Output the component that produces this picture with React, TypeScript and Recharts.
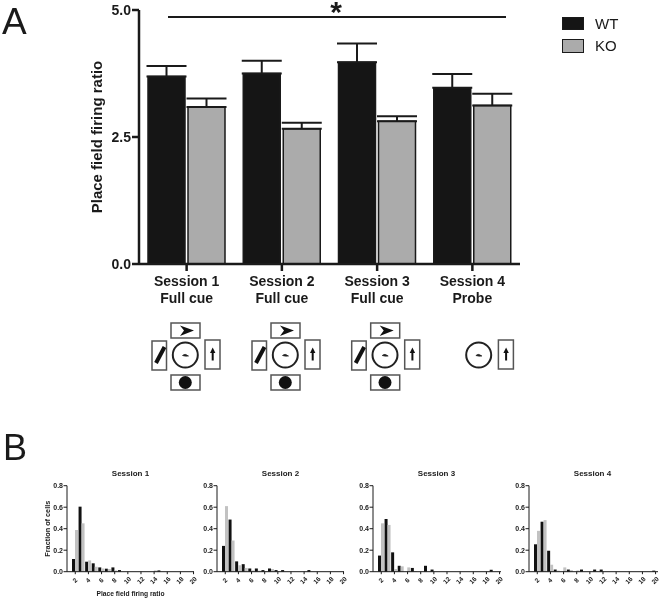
import React from 'react';
import { BarChart, Bar, XAxis, YAxis, ErrorBar, Legend } from 'recharts';

const FONT = '"Liberation Sans", Arial, sans-serif';
const INK = '#1a1a1a';
const GRAYSCALE_TEXT: React.CSSProperties = { willChange: 'transform' };

// Panel A
const sessions = ['Session 1', 'Session 2', 'Session 3', 'Session 4'];
const cues = ['Full cue', 'Full cue', 'Full cue', 'Probe'];
const seriesNames = ['WT', 'KO'];
const wtMeans = [3.69, 3.75, 3.97, 3.47];
const koMeans = [3.09, 2.66, 2.81, 3.12];
const wtSem = [0.21, 0.25, 0.37, 0.27];
const koSem = [0.17, 0.12, 0.1, 0.23];
const ratioTicks = [0, 2.5, 5];

// Panel B
const bins = [2, 3, 4, 5, 6, 7, 8, 9, 10, 11, 12, 13, 14, 15, 16, 17, 18, 19, 20];
const binTicks = [2, 4, 6, 8, 10, 12, 14, 16, 18, 20];
const fractionTicks = [0, 0.2, 0.4, 0.6, 0.8];
const s1Wt = [0.118, 0.605, 0.093, 0.078, 0.04, 0.028, 0.04, 0.015, 0, 0, 0, 0, 0, 0.012, 0, 0, 0, 0, 0];
const s1Ko = [0.388, 0.45, 0.105, 0.046, 0.03, 0.025, 0.012, 0, 0, 0, 0, 0, 0.012, 0, 0, 0, 0, 0, 0];
const s2Wt = [0.24, 0.485, 0.096, 0.07, 0.03, 0.03, 0.015, 0.03, 0.015, 0.015, 0, 0, 0, 0.015, 0, 0, 0, 0, 0];
const s2Ko = [0.61, 0.29, 0.06, 0.035, 0.012, 0.01, 0.006, 0.025, 0.006, 0, 0, 0, 0, 0, 0, 0, 0, 0, 0];
const s3Wt = [0.15, 0.49, 0.18, 0.055, 0, 0.035, 0, 0.055, 0.02, 0, 0, 0, 0, 0, 0, 0, 0, 0.018, 0];
const s3Ko = [0.45, 0.435, 0.025, 0.05, 0.04, 0.006, 0, 0, 0, 0, 0, 0, 0, 0, 0, 0, 0, 0, 0];
const s4Wt = [0.255, 0.465, 0.195, 0.02, 0, 0.02, 0, 0.02, 0, 0.02, 0.02, 0, 0, 0, 0, 0, 0, 0, 0.01];
const s4Ko = [0.38, 0.48, 0.065, 0.01, 0.04, 0.015, 0.012, 0, 0, 0, 0, 0, 0, 0, 0, 0, 0, 0, 0];

const panelA = sessions.map((s, i) => ({
  session: s,
  cue: cues[i],
  WT: wtMeans[i],
  KO: koMeans[i],
  wtErr: [0, wtSem[i]],
  koErr: [0, koSem[i]],
}));

const makeHist = (wt: number[], ko: number[]) => bins.map((b, i) => ({ bin: b, WT: wt[i], KO: ko[i] }));

const histPanels = [
  { title: 'Session 1', left: 66.7, width: 127, xMax: 20.07, wt: s1Wt, ko: s1Ko, labels: true },
  { title: 'Session 2', left: 216.7, width: 127, xMax: 20.07, wt: s2Wt, ko: s2Ko, labels: false },
  { title: 'Session 3', left: 372.7, width: 128, xMax: 20.22, wt: s3Wt, ko: s3Ko, labels: false },
  { title: 'Session 4', left: 529, width: 129, xMax: 20.37, wt: s4Wt, ko: s4Ko, labels: false },
];

const SessionTick = (props: any) => {
  const { x, y, payload, index } = props;
  return (
    <text x={x} textAnchor="middle" fontFamily={FONT} fontWeight={700} fontSize={14} fill={INK}>
      <tspan x={x} y={y + 13}>{payload.value}</tspan>
      <tspan x={x} y={y + 29.5}>{cues[index]}</tspan>
    </text>
  );
};

const BinTick = (props: any) => {
  const { x, y, payload } = props;
  return (
    <text
      x={x}
      y={y + 4.5}
      textAnchor="middle"
      dominantBaseline="middle"
      transform={`rotate(-45 ${x} ${y + 4.5})`}
      fontFamily={FONT}
      fontWeight={700}
      fontSize={6.5}
      fill={INK}
    >
      {payload.value}
    </text>
  );
};

const LegendBox = () => (
  <div style={{ fontFamily: FONT, fontSize: 15, color: INK }}>
    {seriesNames.map((name) => (
      <div key={name} style={{ display: 'flex', alignItems: 'center', height: 22.5 }}>
        <div
          style={{
            boxSizing: 'border-box',
            width: 22,
            height: 13.5,
            background: name === 'WT' ? '#151515' : '#ababab',
            border: `1.5px solid ${INK}`,
            marginRight: 11,
          }}
        />
        {name}
      </div>
    ))}
  </div>
);

const ArenaIcon = ({ dx, full }: { dx: number; full: boolean }) => (
  <g transform={`translate(${dx} 0)`}>
    {full && (
      <g>
        <rect x={171} y={323} width={29} height={15} fill="#fff" stroke="#555" strokeWidth={1.5} />
        <path d="M180 325.5 L194 330.5 L180 336 L184 330.5 Z" fill="#111" />
        <rect x={152} y={341} width={14.5} height={29} fill="#fff" stroke="#555" strokeWidth={1.5} />
        <line x1={156} y1={363} x2={164.5} y2={347} stroke="#111" strokeWidth={4} />
        <rect x={171} y={375} width={29} height={15} fill="#fff" stroke="#555" strokeWidth={1.5} />
        <circle cx={185.3} cy={382.5} r={6.5} fill="#111" />
      </g>
    )}
    <rect x={205} y={340} width={15} height={29} fill="#fff" stroke="#555" strokeWidth={1.5} />
    <line x1={212.7} y1={360.5} x2={212.7} y2={352} stroke="#111" strokeWidth={2} />
    <path d="M210 353 L212.7 347.5 L215.4 353 Z" fill="#111" />
    <circle cx={185.3} cy={355} r={12.5} fill="#fff" stroke="#222" strokeWidth={2} />
    <path d="M182.5 355.5 Q185 353 188.5 356 Q185 356.5 182.5 355.5 Z" fill="#222" stroke="#222" strokeWidth={0.7} />
  </g>
);

const HistPanel = ({ title, left, width, xMax, wt, ko, labels }: any) => {
  const leftPad = 50;
  const rightPad = 10;
  const top = 460;
  return (
    <div style={{ position: 'absolute', left: left - leftPad, top, ...GRAYSCALE_TEXT }}>
      <BarChart
        width={leftPad + width + rightPad}
        height={138}
        data={makeHist(wt, ko)}
        barSize={3}
        barGap={0}
        margin={{ top: 25.7, right: rightPad, bottom: 0, left: 0 }}
      >
        <XAxis
          dataKey="bin"
          type="number"
          domain={[0.74, xMax]}
          allowDataOverflow
          ticks={binTicks}
          interval={0}
          height={26.3}
          tick={<BinTick />}
          tickSize={2.5}
          stroke={INK}
          strokeWidth={1}
          label={
            labels
              ? { value: 'Place field firing ratio', position: 'insideBottom', offset: 0, dy: -2.5, fontFamily: FONT, fontWeight: 700, fontSize: 6.7, fill: INK }
              : undefined
          }
        />
        <YAxis
          domain={[0, 0.8]}
          ticks={fractionTicks}
          interval={0}
          width={leftPad}
          tickFormatter={(v: number) => v.toFixed(1)}
          tick={{ fontFamily: FONT, fontWeight: 700, fontSize: 7, fill: INK }}
          tickSize={3.5}
          tickMargin={0.5}
          stroke={INK}
          strokeWidth={1}
          label={
            labels
              ? { value: 'Fraction of cells', angle: -90, position: 'center', dx: 5, fontFamily: FONT, fontWeight: 700, fontSize: 7.3, fill: INK }
              : undefined
          }
        />
        <Bar dataKey="WT" fill="#111111" isAnimationActive={false} />
        <Bar dataKey="KO" fill="#c2c2c2" isAnimationActive={false} />
        <text
          x={leftPad + 63.5}
          y={15.7}
          textAnchor="middle"
          fontFamily={FONT}
          fontWeight={700}
          fontSize={8}
          fill={INK}
        >
          {title}
        </text>
      </BarChart>
    </div>
  );
};

export default function App() {
  return (
    <div style={{ position: 'absolute', left: 0, top: 0, width: 660, height: 598, background: '#fff', overflow: 'hidden' }}>
      <svg width={660} height={598} style={{ position: 'absolute', left: 0, top: 0, ...GRAYSCALE_TEXT }}>
        <text x={2} y={34} fontFamily={FONT} fontSize={37} fill={INK}>A</text>
        <text x={3} y={460} fontFamily={FONT} fontSize={36} fill={INK}>B</text>
        <line x1={168} y1={17} x2={506} y2={17} stroke={INK} strokeWidth={2} />
        <text x={336} y={22} textAnchor="middle" fontFamily={FONT} fontWeight={700} fontSize={30} fill={INK}>*</text>
        <ArenaIcon dx={0} full />
        <ArenaIcon dx={100} full />
        <ArenaIcon dx={199.7} full />
        <ArenaIcon dx={293.4} full={false} />
      </svg>
      <div style={{ position: 'absolute', left: 0, top: 0, ...GRAYSCALE_TEXT }}>
        <BarChart
          width={660}
          height={320}
          data={panelA}
          barSize={37}
          barGap={3}
          margin={{ top: 10, right: 140, bottom: 0, left: 0 }}
        >
          <XAxis
            dataKey="session"
            interval={0}
            height={56}
            tick={<SessionTick />}
            tickSize={7}
            stroke={INK}
            strokeWidth={2.5}
          />
          <YAxis
            domain={[0, 5]}
            ticks={ratioTicks}
            interval={0}
            width={139}
            tickFormatter={(v: number) => v.toFixed(1)}
            tick={{ fontFamily: FONT, fontWeight: 700, fontSize: 14, fill: INK }}
            tickSize={7}
            tickMargin={1}
            stroke={INK}
            strokeWidth={2.5}
            label={{ value: 'Place field firing ratio', angle: -90, position: 'center', dx: 27, fontFamily: FONT, fontWeight: 700, fontSize: 15, fill: INK }}
          />
          <Legend
            layout="vertical"
            align="center"
            verticalAlign="middle"
            wrapperStyle={{ left: 562, top: 12, width: 90 }}
            content={<LegendBox />}
          />
          <Bar dataKey="WT" name="WT" fill="#151515" stroke={INK} strokeWidth={1.5} isAnimationActive={false}>
            <ErrorBar dataKey="wtErr" direction="y" width={20} stroke={INK} strokeWidth={2} isAnimationActive={false} />
          </Bar>
          <Bar dataKey="KO" name="KO" fill="#ababab" stroke={INK} strokeWidth={1.5} isAnimationActive={false}>
            <ErrorBar dataKey="koErr" direction="y" width={20} stroke={INK} strokeWidth={2} isAnimationActive={false} />
          </Bar>
        </BarChart>
      </div>
      {histPanels.map((p) => (
        <HistPanel key={p.title} {...p} />
      ))}
    </div>
  );
}
